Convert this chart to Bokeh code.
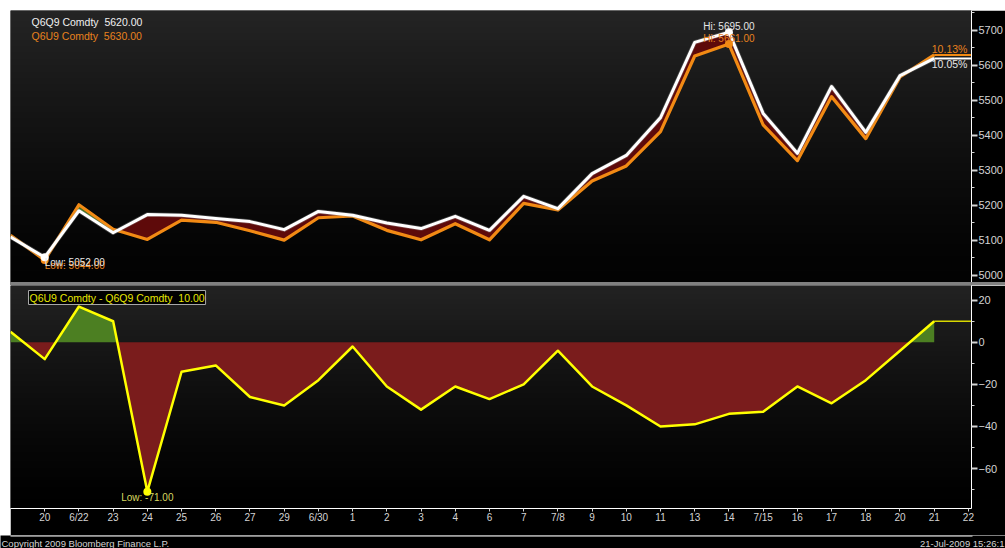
import numpy as np
from bokeh.plotting import figure
from bokeh.models import Range1d, FixedTicker, Label, Spacer
from bokeh.layouts import column, row
from bokeh.embed import file_html
from bokeh.resources import INLINE

# ---------------- data ----------------
tick_labels = ["20", "6/22", "23", "24", "25", "26", "27", "29", "6/30", "1", "2",
               "3", "4", "6", "7", "7/8", "9", "10", "11", "13", "14", "7/15",
               "16", "17", "18", "20", "21", "22"]
q6q9 = [5110, 5052, 5185, 5122, 5174, 5172, 5163, 5154, 5131, 5183, 5172, 5150,
        5134, 5169, 5129, 5226, 5191, 5291, 5343, 5451, 5666, 5695, 5463, 5349,
        5540, 5409, 5571, 5620]
q6u9 = [5115, 5044, 5202, 5132, 5103, 5158, 5152, 5128, 5101, 5165, 5170, 5129,
        5102, 5148, 5102, 5206, 5187, 5270, 5313, 5411, 5627, 5661, 5430, 5328,
        5511, 5391, 5567, 5630]
spread = [5, -8, 17, 10, -71, -14, -11, -26, -30, -18, -2, -21, -32, -21, -27,
          -20, -4, -21, -30, -40, -39, -34, -33, -21, -29, -18, -4, 10]
pct_q6q9 = "10.05%"
pct_q6u9 = "10.13%"
top_ticks = [5000, 5100, 5200, 5300, 5400, 5500, 5600, 5700]
top_minor = [5050, 5150, 5250, 5350, 5450, 5550, 5650, 5750]
bot_ticks = [-60, -40, -20, 0, 20]
bot_minor = [-70, -50, -30, -10, 10]

# ---------------- style ----------------
PAGE_W = 1005
LEFT_PAD = 10
INNER_W = 995
FRAME_W = 962
TOP_H = 272
BOT_H = 250
FOOT_H = 13
X_END = 28.09
FONT = "Liberation Sans"
AXIS_GREY = "#d4d4d4"
WHITE = "#ffffff"
ORANGE = "#f28a14"
ORANGE_TXT = "#e8821e"
YELLOW = "#ffff00"
YELLOW_TXT = "#e6e600"
NB = "\u00a0"

x = np.arange(len(q6q9), dtype=float)
tick_pos = list(range(1, len(tick_labels) + 1))


def crossings(xv, a, b):
    xs, aa, bb = [xv[0]], [a[0]], [b[0]]
    for i in range(len(xv) - 1):
        d0 = a[i] - b[i]
        d1 = a[i + 1] - b[i + 1]
        if d0 * d1 < 0:
            t = d0 / (d0 - d1)
            xc = xv[i] + t * (xv[i + 1] - xv[i])
            ac = a[i] + t * (a[i + 1] - a[i])
            xs.append(xc); aa.append(ac); bb.append(ac)
        xs.append(xv[i + 1]); aa.append(a[i + 1]); bb.append(b[i + 1])
    return np.array(xs), np.array(aa, dtype=float), np.array(bb, dtype=float)


def gradient(top_v, bot_v, n=128):
    img = np.zeros((n, 1), dtype=np.uint32)
    view = img.view(dtype=np.uint8).reshape((n, 1, 4))
    for i in range(n):
        t = (i / (n - 1)) ** 1.3
        v = int(round(bot_v + (top_v - bot_v) * t))
        view[i, 0, 0] = v
        view[i, 0, 1] = v
        view[i, 0, 2] = v
        view[i, 0, 3] = 255
    return img


def style_yaxis(ax, ticks, minor):
    ax.ticker = FixedTicker(ticks=ticks, minor_ticks=minor)
    ax.axis_line_color = WHITE
    ax.axis_line_width = 1
    ax.major_tick_line_color = AXIS_GREY
    ax.major_tick_line_width = 2
    ax.major_tick_out = 6
    ax.major_tick_in = 0
    ax.minor_tick_line_color = AXIS_GREY
    ax.minor_tick_out = 3
    ax.minor_tick_in = 0
    ax.major_label_text_color = AXIS_GREY
    ax.major_label_text_font = FONT
    ax.major_label_text_font_size = "11px"
    ax.major_label_standoff = 1


def lab(p, **kw):
    base = dict(text_font=FONT, text_font_size="10px")
    base.update(kw)
    p.add_layout(Label(**base))


# ---------------- top panel ----------------
top = figure(width=INNER_W, height=TOP_H, x_range=Range1d(0, X_END),
             y_range=Range1d(4980, 5757), x_axis_location=None,
             y_axis_location="right", output_backend="svg",
             toolbar_location=None, min_border_left=0, min_border_right=INNER_W - FRAME_W,
             min_border_top=0, min_border_bottom=0,
             background_fill_color="black", border_fill_color="black",
             outline_line_color=None)
top.grid.visible = False
style_yaxis(top.yaxis[0], top_ticks, top_minor)

top.image_rgba(image=[gradient(36, 2)], x=top.x_range.start, y=top.y_range.start,
               dw=top.x_range.end - top.x_range.start,
               dh=top.y_range.end - top.y_range.start)

xs, w_d, o_d = crossings(x, np.array(q6q9, float), np.array(q6u9, float))
top.varea(x=xs, y1=o_d, y2=np.maximum(w_d, o_d), fill_color="#5e0a0a")
top.varea(x=xs, y1=w_d, y2=np.maximum(w_d, o_d), fill_color="#3d6e1c")

top.line([x[-1], X_END], [q6u9[-1], q6u9[-1]], line_color=ORANGE, line_width=2)
top.line([x[-1], X_END], [q6q9[-1], q6q9[-1]], line_color=WHITE, line_width=2)
top.line(x, q6u9, line_color=ORANGE, line_width=3.2, line_join="round")
top.line(x, q6q9, line_color="#9a9a9a", line_width=4.5, line_alpha=0.35, line_join="round")
top.line(x, q6q9, line_color=WHITE, line_width=3, line_join="round")

i_hi_w = int(np.argmax(q6q9)); i_hi_o = int(np.argmax(q6u9))
i_lo_w = int(np.argmin(q6q9)); i_lo_o = int(np.argmin(q6u9))
top.scatter([x[i_hi_o], x[i_lo_o]], [q6u9[i_hi_o], q6u9[i_lo_o]], size=8,
            fill_color=ORANGE, line_color=None)
top.scatter([x[i_hi_w], x[i_lo_w]], [q6q9[i_hi_w], q6q9[i_lo_w]], size=8,
            fill_color=WHITE, line_color=None)

lab(top, x=x[i_hi_o], y=q6u9[i_hi_o], text="Hi: %.2f" % q6u9[i_hi_o],
    text_color=ORANGE_TXT, text_align="center", text_baseline="bottom")
lab(top, x=x[i_hi_w], y=q6q9[i_hi_w], text="Hi: %.2f" % q6q9[i_hi_w],
    text_color="#e6e6e6", text_align="center", text_baseline="bottom")
lab(top, x=x[i_lo_o], y=q6u9[i_lo_o], text="Low: %.2f" % q6u9[i_lo_o],
    text_color=ORANGE_TXT, text_align="left", text_baseline="top")
lab(top, x=x[i_lo_w], y=q6q9[i_lo_w], text="Low: %.2f" % q6q9[i_lo_w],
    text_color="#e6e6e6", text_align="left", text_baseline="top")

lab(top, x=27.97, y=q6u9[-1], text=pct_q6u9, text_color=ORANGE_TXT,
    text_align="right", text_baseline="bottom", text_font_size="10.5px")
lab(top, x=27.97, y=q6q9[-1], text=pct_q6q9, text_color="#e6e6e6",
    text_align="right", text_baseline="top", text_font_size="10.5px")

# last value tags on the axis
lab(top, x=FRAME_W + 1, x_units="screen", y=q6u9[-1], text="%.2f" % q6u9[-1],
    text_color="black", background_fill_color=ORANGE, text_align="left",
    text_baseline="middle", text_font_size="8.5px", padding=1)
lab(top, x=FRAME_W + 1, x_units="screen", y=q6q9[-1], text="%.2f" % q6q9[-1],
    text_color="black", background_fill_color=WHITE, text_align="left",
    text_baseline="middle", text_font_size="8.5px", padding=1)

# legend box
leg1 = "Q6Q9 Comdty " + NB + "%.2f" % q6q9[-1]
leg2 = "Q6U9 Comdty " + NB + "%.2f" % q6u9[-1]
lab(top, x=18, y=269, x_units="screen", y_units="screen", text=leg1 + "\n" + leg2,
    text_alpha=0.0, border_line_color="#c8c8c8", background_fill_color="black",
    text_align="left", text_baseline="top", text_font_size="10.5px", padding=2,
    text_line_height=1.2)
lab(top, x=21, y=267, x_units="screen", y_units="screen", text=leg1,
    text_color="#f0f0f0", text_align="left", text_baseline="top", text_font_size="10.5px")
lab(top, x=21, y=253, x_units="screen", y_units="screen", text=leg2,
    text_color=ORANGE_TXT, text_align="left", text_baseline="top", text_font_size="10.5px")

# ---------------- separator ----------------
sep = Spacer(width=INNER_W, height=3, styles={"background-color": "#808080"})

# ---------------- bottom panel ----------------
bot = figure(width=INNER_W, height=BOT_H, x_range=top.x_range,
             y_range=Range1d(-79, 27), x_axis_location="below",
             y_axis_location="right", output_backend="svg",
             toolbar_location=None, min_border_left=0, min_border_right=INNER_W - FRAME_W,
             min_border_top=0, min_border_bottom=27,
             background_fill_color="black", border_fill_color="black",
             outline_line_color=None)
bot.grid.visible = False
style_yaxis(bot.yaxis[0], bot_ticks, bot_minor)

xa = bot.xaxis[0]
xa.ticker = FixedTicker(ticks=tick_pos, minor_ticks=[])
xa.major_label_overrides = {p: t for p, t in zip(tick_pos, tick_labels)}
xa.axis_line_color = WHITE
xa.major_tick_line_color = AXIS_GREY
xa.major_tick_out = 3
xa.major_tick_in = 0
xa.minor_tick_out = 0
xa.minor_tick_in = 0
xa.major_label_text_color = AXIS_GREY
xa.major_label_text_font = FONT
xa.major_label_text_font_size = "10px"
xa.major_label_standoff = 0

bot.image_rgba(image=[gradient(34, 0)], x=bot.x_range.start, y=bot.y_range.start,
               dw=bot.x_range.end - bot.x_range.start,
               dh=bot.y_range.end - bot.y_range.start)

xb, s_d, z_d = crossings(x, np.array(spread, float), np.zeros(len(spread)))
bot.varea(x=xb, y1=0, y2=np.minimum(s_d, 0), fill_color="#7a1c1c")
bot.varea(x=xb, y1=0, y2=np.maximum(s_d, 0), fill_color="#4c7f22")
bot.line([x[-1], X_END], [spread[-1], spread[-1]], line_color="#d8d800", line_width=1.5)
bot.line(x, spread, line_color=YELLOW, line_width=2.5, line_join="round")
i_lo_s = int(np.argmin(spread))
bot.scatter([x[i_lo_s]], [spread[i_lo_s]], size=8, fill_color=YELLOW, line_color=None)
lab(bot, x=x[i_lo_s], y=spread[i_lo_s], text="Low: %.2f" % spread[i_lo_s],
    text_color="#d8d860", text_align="center", text_baseline="top")

lab(bot, x=FRAME_W + 1, x_units="screen", y=spread[-1], text="%.2f" % spread[-1],
    text_color="black", background_fill_color=YELLOW, text_align="left",
    text_baseline="middle", text_font_size="10.5px", padding=1)

lab(bot, x=18, y=218, x_units="screen", y_units="screen",
    text="Q6U9 Comdty - Q6Q9 Comdty " + NB + "%.2f" % spread[-1], text_color=YELLOW_TXT,
    border_line_color="#a8a8a8", background_fill_color="black", text_align="left",
    text_baseline="top", text_font_size="10.5px", padding=1)

# ---------------- footer strip (page pixel coordinates) ----------------
foot = figure(width=PAGE_W, height=FOOT_H, x_range=Range1d(0, PAGE_W),
              y_range=Range1d(0, FOOT_H), x_axis_location=None, y_axis_location=None,
              output_backend="svg", toolbar_location=None, min_border_left=0,
              min_border_right=0, min_border_top=0, min_border_bottom=0,
              background_fill_color="black", border_fill_color="black",
              outline_line_color=None)
foot.grid.visible = False
foot.line([LEFT_PAD, LEFT_PAD + FRAME_W], [FOOT_H - 0.5, FOOT_H - 0.5],
          line_color=WHITE, line_width=1)
lab(foot, x=1, y=5.5, text="Copyright 2009 Bloomberg Finance L.P.",
    text_color=AXIS_GREY, text_align="left", text_baseline="middle",
    text_font_size="9.5px")
lab(foot, x=PAGE_W - 1, y=5.5, text="21-Jul-2009 15:26:1", text_color=AXIS_GREY,
    text_align="right", text_baseline="middle", text_font_size="9.5px")

layout = column(
    Spacer(width=PAGE_W, height=10),
    row(Spacer(width=LEFT_PAD, height=TOP_H + 3 + BOT_H),
        column(top, sep, bot, spacing=0), spacing=0),
    foot,
    spacing=0,
)
open("out.html", "w").write(file_html(layout, INLINE))
